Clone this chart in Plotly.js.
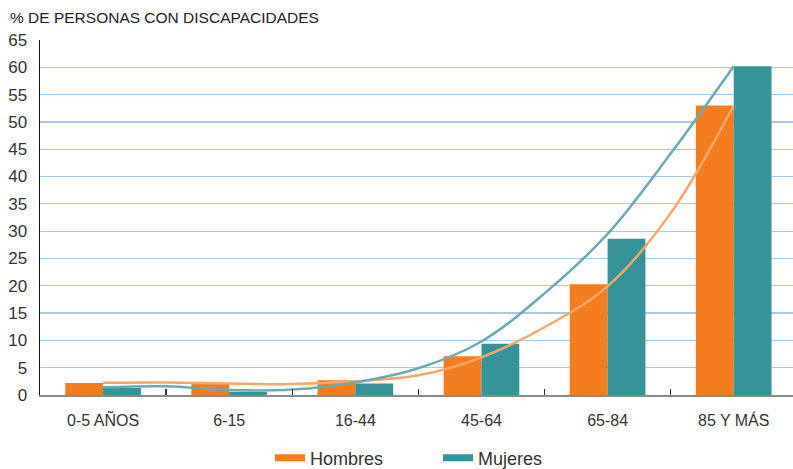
<!DOCTYPE html>
<html>
<head>
<meta charset="utf-8">
<script src="https://cdn.plot.ly/plotly-3.0.1.min.js"></script>
<style>html,body{margin:0;padding:0;background:#fff;}#chart{width:793px;height:469px;}</style>
</head>
<body>
<div id="chart"></div>
<script>
const categories = ["0-5 AÑOS", "6-15", "16-44", "45-64", "65-84", "85 Y MÁS"];
const catIndex = [0, 1, 2, 3, 4, 5];
const hombres = [2.2, 2.1, 2.7, 7.1, 20.3, 53.0];
const mujeres = [1.3, 0.6, 2.1, 9.4, 28.6, 60.2];
// trend lines at half-category steps
const trendX = [0, 0.5, 1, 1.5, 2, 2.5, 3, 3.5, 4, 4.5, 5];
const trendHombres = [2.25, 2.3, 2.1, 2.0, 2.5, 3.6, 6.9, 12.4, 19.9, 33.3, 53.0];
const trendMujeres = [1.4, 1.6, 0.9, 1.0, 2.3, 4.9, 9.8, 18.6, 29.5, 44.2, 60.2];
const yTicks = [0, 5, 10, 15, 20, 25, 30, 35, 40, 45, 50, 55, 60, 65];

const orange = "#f47d20";
const teal = "#37939a";

const data = [
  {type: "bar", x: catIndex, y: hombres, name: "Hombres", marker: {color: orange}, showlegend: false, hoverinfo: "y"},
  {type: "bar", x: catIndex, y: mujeres, name: "Mujeres", marker: {color: teal}, showlegend: false, hoverinfo: "y"},
  {type: "scatter", mode: "lines", x: trendX, y: trendHombres, line: {color: "#f9a66a", width: 2.5, shape: "spline", smoothing: 1}, showlegend: false, hoverinfo: "skip"},
  {type: "scatter", mode: "lines", x: trendX, y: trendMujeres, line: {color: "#6aabb2", width: 2.5, shape: "spline", smoothing: 1}, showlegend: false, hoverinfo: "skip"},
  {type: "scatter", mode: "lines", x: [null], y: [null], name: "Hombres", line: {color: orange, width: 7}, showlegend: true},
  {type: "scatter", mode: "lines", x: [null], y: [null], name: "Mujeres", line: {color: teal, width: 7}, showlegend: true}
];

const layout = {
  width: 793, height: 469,
  margin: {l: 40, r: 0, t: 40, b: 74, autoexpand: false},
  paper_bgcolor: "#fff", plot_bgcolor: "#fff",
  font: {family: "Liberation Sans, Arial, sans-serif", color: "#333"},
  title: {text: "% DE PERSONAS CON DISCAPACIDADES", x: 10/793, xref: "container", xanchor: "left", y: 1 - 18/469, yref: "container", yanchor: "middle", font: {size: 15.5, color: "#222"}},
  barmode: "group", bargap: 0.4, bargroupgap: 0,
  xaxis: {
    range: [-0.5, 5.47], tickmode: "array", tickvals: catIndex, ticktext: categories,
    ticks: "", showgrid: false, zeroline: false,
    showline: true, linecolor: "#8a8a8a", linewidth: 2,
    ticklabelstandoff: 10,
    tickfont: {size: 16, color: "#333"},
    minor: {tickmode: "array", tickvals: [0.5, 1.5, 2.5, 3.5, 4.5], ticks: "inside", ticklen: 6, tickwidth: 1.5, tickcolor: "#333", showgrid: false},
    fixedrange: true
  },
  yaxis: {
    range: [0, 65], tickmode: "array", tickvals: yTicks,
    showgrid: true, gridcolor: "#a9c9e4", gridwidth: 1.2, zeroline: false,
    showline: true, linecolor: "#111", linewidth: 1.5,
    ticks: "", ticklabelstandoff: 8,
    tickfont: {size: 17, color: "#333"},
    fixedrange: true
  },
  showlegend: true,
  legend: {orientation: "h", xref: "container", yref: "container", x: 270/793, xanchor: "left", y: 11/469, yanchor: "middle", font: {size: 18, color: "#333"}, entrywidth: 123, traceorder: "normal", bgcolor: "rgba(0,0,0,0)"}
};

Plotly.newPlot("chart", data, layout, {displayModeBar: false, staticPlot: true});
</script>
</body>
</html>
